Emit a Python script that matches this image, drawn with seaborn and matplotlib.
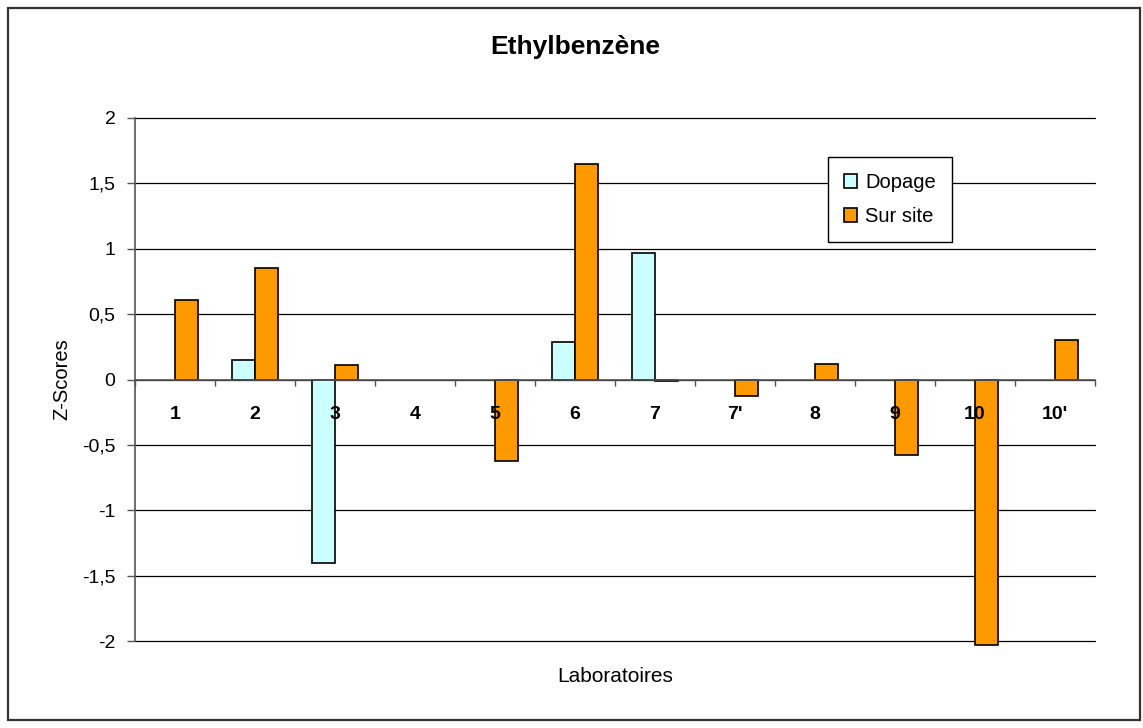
import numpy as np
import pandas as pd
import matplotlib
matplotlib.use("Agg")
import matplotlib.pyplot as plt
from matplotlib.patches import Rectangle
from matplotlib.ticker import FixedLocator, FuncFormatter
import seaborn as sns

# ---- data ----
laboratoires = ['1', '2', '3', '4', '5', '6', '7', "7'", '8', '9', '10', "10'"]
dopage = [np.nan, 0.15, -1.40, np.nan, np.nan, 0.29, 0.97, np.nan, np.nan, np.nan, np.nan, np.nan]
sur_site = [0.61, 0.85, 0.11, np.nan, -0.62, 1.65, -0.015, -0.13, 0.12, -0.58, -2.03, 0.30]
series_names = ['Dopage', 'Sur site']
y_ticks = [-2, -1.5, -1, -0.5, 0, 0.5, 1, 1.5, 2]

df = pd.DataFrame({
    'Laboratoires': laboratoires * 2,
    'Z': dopage + sur_site,
    'Série': [series_names[0]] * len(laboratoires) + [series_names[1]] * len(laboratoires),
})

sns.set_theme(style="white")
plt.rcParams['font.family'] = ['Liberation Sans', 'DejaVu Sans']
plt.rcParams['text.color'] = 'black'
plt.rcParams['axes.labelcolor'] = 'black'
plt.rcParams['xtick.color'] = 'black'
plt.rcParams['ytick.color'] = 'black'

W, H = 1143, 728
fig = plt.figure(figsize=(W / 100, H / 100), dpi=100)
ax = fig.add_axes([135 / W, 1 - 641 / H, 960 / W, 523 / H])

sns.barplot(data=df, x='Laboratoires', y='Z', hue='Série', order=laboratoires,
            hue_order=series_names, palette=['#CCFFFF', '#FF9900'], saturation=1,
            edgecolor='black', linewidth=1.2, width=0.57, errorbar=None, ax=ax)
for p in ax.patches:
    p.set_clip_on(False)

ax.set_ylim(-2, 2)
ax.set_xlim(-0.5, len(laboratoires) - 0.5)
ax.set_yticks(y_ticks)
ax.yaxis.set_major_formatter(FuncFormatter(lambda v, _: f"{v:g}".replace('.', ',')))
ax.yaxis.grid(True, color='black', linewidth=0.9, clip_on=False)
ax.set_axisbelow(True)
ax.xaxis.set_zorder(3)

for s in ['top', 'right']:
    ax.spines[s].set_visible(False)
ax.spines['left'].set_color('#555555')
ax.spines['left'].set_linewidth(1.2)
ax.spines['bottom'].set_position(('data', 0))
ax.spines['bottom'].set_color('#555555')
ax.spines['bottom'].set_linewidth(1.2)

ax.tick_params(axis='y', which='major', direction='out', length=6, width=1, color='#555555',
               labelsize=14, pad=8, left=True)
ax.tick_params(axis='x', which='major', length=0, pad=19, labelsize=14)
ax.xaxis.set_minor_locator(FixedLocator(np.arange(-0.5, len(laboratoires), 1.0)))
ax.tick_params(axis='x', which='minor', direction='out', length=4, width=1, color='#555555', bottom=True)
for t in ax.get_xticklabels():
    t.set_fontweight('bold')

ax.set_xlabel('Laboratoires', fontsize=15)
ax.xaxis.set_label_coords(0.5, -0.05)
ax.set_ylabel('Z-Scores', fontsize=14.5)
ax.yaxis.set_label_coords(-0.066, 0.5)

fig.text(575 / W, 1 - 47 / H, 'Ethylbenzène', ha='center', va='center',
         fontsize=19, fontweight='bold', color='black')

handles, labels = ax.get_legend_handles_labels()
leg = ax.legend(handles, labels, loc='upper left', bbox_to_anchor=(828 / W, 1 - 157 / H),
                bbox_transform=fig.transFigure, borderaxespad=0, fontsize=14.5,
                frameon=True, fancybox=False, framealpha=1, edgecolor='black',
                handlelength=0.65, handleheight=0.65, handletextpad=0.4,
                labelspacing=0.75, borderpad=0.8)
leg.get_frame().set_linewidth(1.0)

fig.patches.append(Rectangle((8 / W, 8 / H), (1140 - 8) / W, (720 - 8) / H,
                             transform=fig.transFigure, fill=False,
                             edgecolor='#333333', linewidth=1.6))

fig.savefig('out.png', dpi=100)
